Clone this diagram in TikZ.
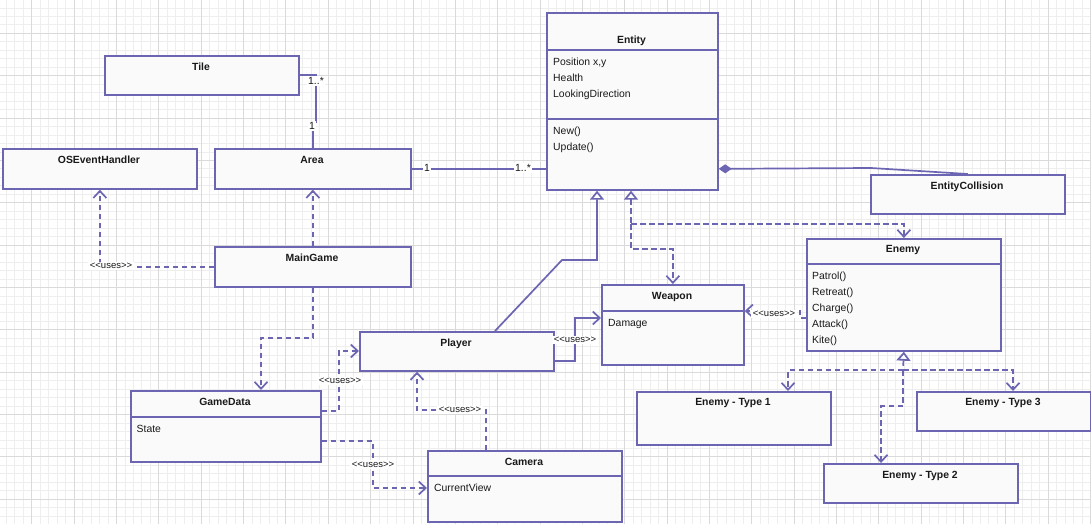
\documentclass[tikz,border=0pt]{standalone}
\usepackage{fontspec}
\setmainfont{Liberation Sans}
\usetikzlibrary{arrows.meta}
\definecolor{umlline}{RGB}{108,102,178}
\definecolor{boxfill}{RGB}{250,250,250}
\definecolor{gridminor}{RGB}{238,238,238}
\definecolor{gridmajor}{RGB}{218,218,218}
\definecolor{ink}{RGB}{25,25,25}
\tikzset{
  umlbox/.style={draw=umlline, line width=1.7pt, fill=boxfill, anchor=north west, inner sep=0pt},
  title/.style={font=\fontsize{10.4}{10.4}\selectfont\bfseries, text=ink, text height=7pt, text depth=0pt, inner sep=0pt},
  member/.style={font=\fontsize{10.4}{10.4}\selectfont, text=ink, anchor=west, text height=7pt, text depth=0pt, inner sep=0pt},
  sep/.style={draw=umlline, line width=1.7pt},
  assoc/.style={draw=umlline, line width=1.7pt},
  dep/.style={draw=umlline, line width=1.7pt, dash pattern=on 5.5pt off 3.5pt},
  opentip/.style={-{Straight Barb[length=7pt,width=13pt]}},
  gentip/.style={{Triangle[length=9pt,width=14pt,fill=white]}-},
  lbl/.style={fill=white, inner sep=1.5pt, font=\fontsize{9.5}{9.5}\selectfont, text=ink},
  mult/.style={fill=white, inner sep=1.5pt, font=\fontsize{10.4}{10.4}\selectfont, text=ink},
}
\begin{document}
\begin{tikzpicture}[x=1pt,y=-1pt]
\useasboundingbox (0,0) rectangle (1091,524);
\fill[white] (0,0) rectangle (1091,524);

% background grid
\foreach \i in {0,...,128} {
  \draw[gridminor, line width=0.7pt] ({6.29+8.47*\i},0) -- ++(0,524);
}
\foreach \i in {0,...,61} {
  \draw[gridminor, line width=0.7pt] (0,{7.89+8.47*\i}) -- ++(1091,0);
}
\foreach \i in {0,...,25} {
  \draw[gridmajor, line width=0.7pt] ({31.7+42.35*\i},0) -- ++(0,524);
}
\foreach \i in {0,...,12} {
  \draw[gridmajor, line width=0.7pt] (0,{33.3+42.35*\i}) -- ++(1091,0);
}

% class boxes
\node[umlbox, minimum width=194pt, minimum height=39pt] (tile) at (104,55) {};
\node[umlbox, minimum width=194pt, minimum height=40pt] (oseh) at (2,148) {};
\node[umlbox, minimum width=196pt, minimum height=40pt] (area) at (214,148) {};
\node[umlbox, minimum width=171pt, minimum height=177pt] (entity) at (546,12) {};
\node[umlbox, minimum width=194pt, minimum height=39pt] (coll) at (870,174) {};
\node[umlbox, minimum width=194pt, minimum height=112pt] (enemy) at (806,238) {};
\node[umlbox, minimum width=196pt, minimum height=40pt] (main) at (214,246) {};
\node[umlbox, minimum width=190pt, minimum height=71pt] (gdata) at (130,390) {};
\node[umlbox, minimum width=194pt, minimum height=39pt] (player) at (359,331) {};
\node[umlbox, minimum width=142pt, minimum height=80pt] (weapon) at (601,284) {};
\node[umlbox, minimum width=194pt, minimum height=71pt] (camera) at (427,450) {};
\node[umlbox, minimum width=194pt, minimum height=53pt] (type1) at (636,391) {};
\node[umlbox, minimum width=174pt, minimum height=39pt] (type3) at (916,391) {};
\node[umlbox, minimum width=194pt, minimum height=39pt] (type2) at (823,463) {};

% compartment separators
\draw[sep] (entity.west |- 0,50) -- (entity.east |- 0,50);
\draw[sep] (entity.west |- 0,119) -- (entity.east |- 0,119);
\draw[sep] (enemy.west |- 0,264) -- (enemy.east |- 0,264);
\draw[sep] (gdata.west |- 0,417) -- (gdata.east |- 0,417);
\draw[sep] (weapon.west |- 0,311) -- (weapon.east |- 0,311);
\draw[sep] (camera.west |- 0,476) -- (camera.east |- 0,476);

% class names
\node[title] (ttile) at (201,67) {Tile};
\node[title] (toseh) at (99,160) {OSEventHandler};
\node[title] (tarea) at (312,160) {Area};
\node[title] (tentity) at (631.5,40) {Entity};
\node[title] (tcoll) at (967,186) {EntityCollision};
\node[title] (tenemy) at (903,249) {Enemy};
\node[title] (tmain) at (312,258) {MainGame};
\node[title] (tgdata) at (225,401.5) {GameData};
\node[title] (tplayer) at (456,343) {Player};
\node[title] (tweapon) at (672,296) {Weapon};
\node[title] (tcamera) at (524,462) {Camera};
\node[title] (ttype1) at (733,402) {Enemy - Type 1};
\node[title] (ttype3) at (1003,402) {Enemy - Type 3};
\node[title] (ttype2) at (920,475) {Enemy - Type 2};

% members
\node[member] (m1) at (553,62) {Position x,y};
\node[member] (m2) at (553,78) {Health};
\node[member] (m3) at (553,94) {LookingDirection};
\node[member] (m4) at (553,131) {New()};
\node[member] (m5) at (553,147) {Update()};
\node[member] (m6) at (812,276) {Patrol()};
\node[member] (m7) at (812,292) {Retreat()};
\node[member] (m8) at (812,308) {Charge()};
\node[member] (m9) at (812,324) {Attack()};
\node[member] (m10) at (812,340) {Kite()};
\node[member] (m11) at (136.5,429) {State};
\node[member] (m12) at (608,323) {Damage};
\node[member] (m13) at (434,488) {CurrentView};

% routing points
\coordinate (a1) at (316,122);
\coordinate (g1) at (261,338);
\coordinate (g2) at (339,411);
\coordinate (g3) at (339,351);
\coordinate (g4) at (373,441);
\coordinate (g5) at (373,488);
\coordinate (c1) at (486,410);
\coordinate (c2) at (417,410);
\coordinate (h0) at (495,300);
\coordinate (h1) at (562,260);
\coordinate (h2) at (597,260);
\coordinate (r1) at (631,224);
\coordinate (r2) at (631,249);
\coordinate (e1) at (800,318);
\coordinate (e2) at (800,311);
\coordinate (w1) at (575,361);
\coordinate (w2) at (575,318);
\coordinate (k1) at (871,168);
\coordinate (s0) at (903,370);
\coordinate (s1) at (788,370);
\coordinate (s3) at (1013,370);
\coordinate (s2a) at (903,406);
\coordinate (s2b) at (881,406);

% associations
\draw[assoc] (tile.east) -| (a1) -| (area.north);
\node[mult] (mt1) at (316,81) {1..*};
\node[mult] (mt2) at (312,126) {1};
\draw[assoc] (area.east) -- (area.east -| entity.west);
\node[mult] (ma1) at (427,168) {1};
\node[mult] (ma2) at (523,168) {1..*};
\draw[assoc, {Diamond[length=13pt,width=9pt,fill=umlline]}-] (entity.east |- area.east) -- (k1) -- (coll.north);

% MainGame dependencies
\draw[dep, opentip] (main.north) -- (area.south);
\draw[dep, opentip] (main.west) -| (oseh.south);
\node[lbl] (u1) at (111,266) {<{}<uses>{}>};
\draw[dep, opentip] (main.south) |- (g1) -- (g1 |- gdata.north);

% GameData dependencies
\draw[dep, opentip] (g2 -| gdata.east) -- (g2) -- (g3) -- (g3 -| player.west);
\node[lbl] (u2) at (340,381) {<{}<uses>{}>};
\draw[dep, opentip] (g4 -| gdata.east) -- (g4) -- (g5) -- (g5 -| camera.west);
\node[lbl] (u3) at (373,464.5) {<{}<uses>{}>};

% Camera uses Player
\draw[dep, opentip] (c1 |- camera.north) -- (c1) -- (c2) -- (c2 |- player.south);
\node[lbl] (u4) at (460,410) {<{}<uses>{}>};

% Player generalises Entity
\draw[assoc, gentip] (h2 |- entity.south) -- (h2) -- (h1) -- (h0 |- player.north);

% Entity realisations
\draw[dep, gentip] (r1 |- entity.south) -- (r1);
\draw[dep, opentip] (r1) -| (enemy.north);
\draw[dep, opentip] (r1) -- (r2) -| (weapon.north);

% Player uses Weapon
\draw[assoc, opentip] (w1 -| player.east) -- (w1) -- (w2) -- (w2 -| weapon.west);
\node[lbl] (u5) at (575,340) {<{}<uses>{}>};

% Enemy uses Weapon
\draw[dep, opentip] (e1 -| enemy.west) -- (e1) -- (e2) -- (e2 -| weapon.east);
\node[lbl] (u6) at (774,314) {<{}<uses>{}>};

% Enemy subtypes
\draw[dep, gentip] (enemy.south) -- (s0);
\draw[dep, opentip] (s0) -- (s1) -- (s1 |- type1.north);
\draw[dep, opentip] (s0) -- (s3) -- (s3 |- type3.north);
\draw[dep, opentip] (s0) -- (s2a) -- (s2b) -- (s2b |- type2.north);
\end{tikzpicture}
\end{document}
